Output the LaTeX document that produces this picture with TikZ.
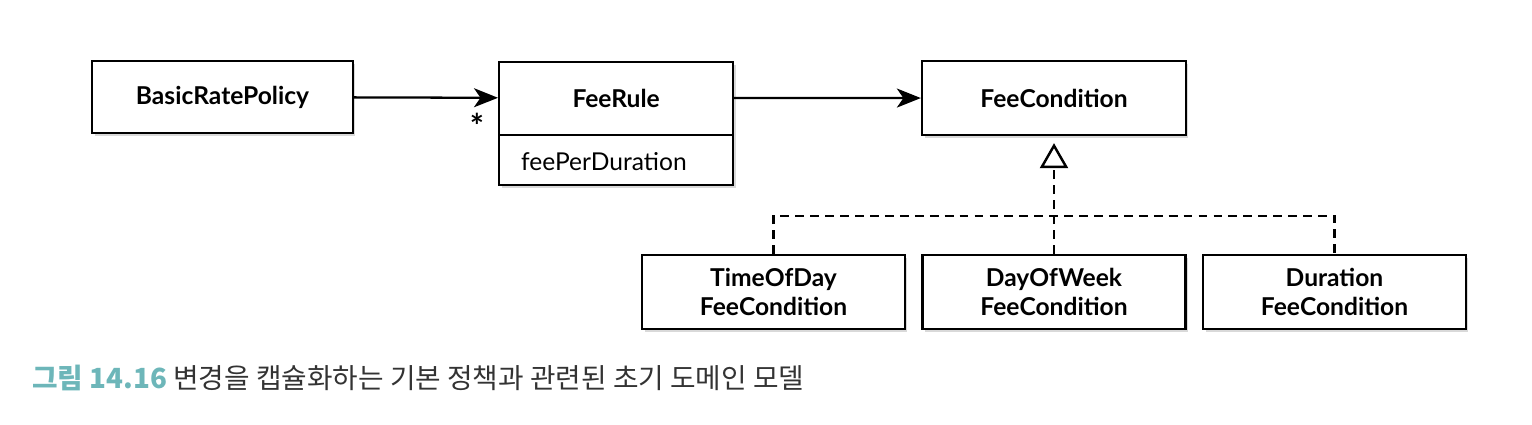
\documentclass[tikz,border=0pt]{standalone}
\usepackage{fontspec}
\setmainfont{Lato}
\newfontfamily\krfont{Noto Sans CJK KR}
\usetikzlibrary{arrows.meta,shadows}
\definecolor{capteal}{HTML}{6DB6B9}
\definecolor{capgray}{HTML}{333333}

\begin{document}
\begin{tikzpicture}[x=0.02cm,y=-0.02cm,
  boxbase/.style={draw, line width=1.3pt, fill=white, align=center, inner sep=0pt,
    font=\bfseries\fontsize{14}{17}\selectfont},
  classbox/.style={boxbase,
    drop shadow={shadow xshift=0.05cm, shadow yshift=-0.05cm, opacity=0.3}},
  assoc/.style={line width=1.3pt, -{Stealth[length=0.48cm, width=0.38cm, inset=0.13cm]}},
  realize/.style={line width=1.4pt, dash pattern=on 5pt off 3.5pt}]
\useasboundingbox (0,0) rectangle (1532,424);

% top row
\node[classbox, minimum width=4.68cm, minimum height=2.46cm, anchor=north west] (rulebox) at (498,61) {};
\node[boxbase, draw=none, fill=none, minimum width=4.68cm, minimum height=1.44cm, anchor=north] (rule) at (rulebox.north) {FeeRule};
\node[boxbase, draw=none, fill=none, anchor=north, minimum height=1.02cm, text width=3.8cm, inner xsep=0.44cm,
  align=left, font=\fontsize{14}{17}\selectfont] (ruleattr) at (rule.south) {feePerDuration};
\draw[line width=1.1pt] (rule.south west) -- (rule.south east);
\node[classbox, minimum width=5.22cm, minimum height=1.44cm] (policy) at (222.5,97) {BasicRatePolicy};
\node[classbox, minimum width=5.28cm, minimum height=1.48cm] (cond) at (1054,98) {FeeCondition};

% bottom row
\node[classbox, minimum width=5.26cm, minimum height=1.48cm] (tod) at (773.5,292) {TimeOfDay\\FeeCondition};
\node[classbox, minimum width=5.26cm, minimum height=1.48cm] (dow) at (1054,292) {DayOfWeek\\FeeCondition};
\node[classbox, minimum width=5.26cm, minimum height=1.48cm] (dur) at (1334.5,292) {Duration\\FeeCondition};

% associations
\draw[assoc] (policy) -- (rule);
\node[font=\bfseries\fontsize{19}{20}\selectfont] (mult) at (477,126) {*};
\draw[assoc] (rule) -- (cond);

% realizations
\coordinate (bus) at (0,216);
\draw[realize] (tod.north) -- (tod.north |- bus) -- (dur.north |- bus) -- (dur.north);
\draw[realize, -{Triangle[open, length=0.5cm, width=0.56cm, fill=white]}]
  (dow.north) -- ([yshift=-0.14cm]cond.south);

% caption
\node[anchor=base west, inner sep=0pt, font=\krfont\fontsize{15.8}{18}\selectfont] (caption) at (32,388)
  {\textcolor{capteal}{\bfseries 그림 14.16}\ \textcolor{capgray}{변경을 캡슐화하는 기본 정책과 관련된 초기 도메인 모델}};
\end{tikzpicture}
\end{document}
